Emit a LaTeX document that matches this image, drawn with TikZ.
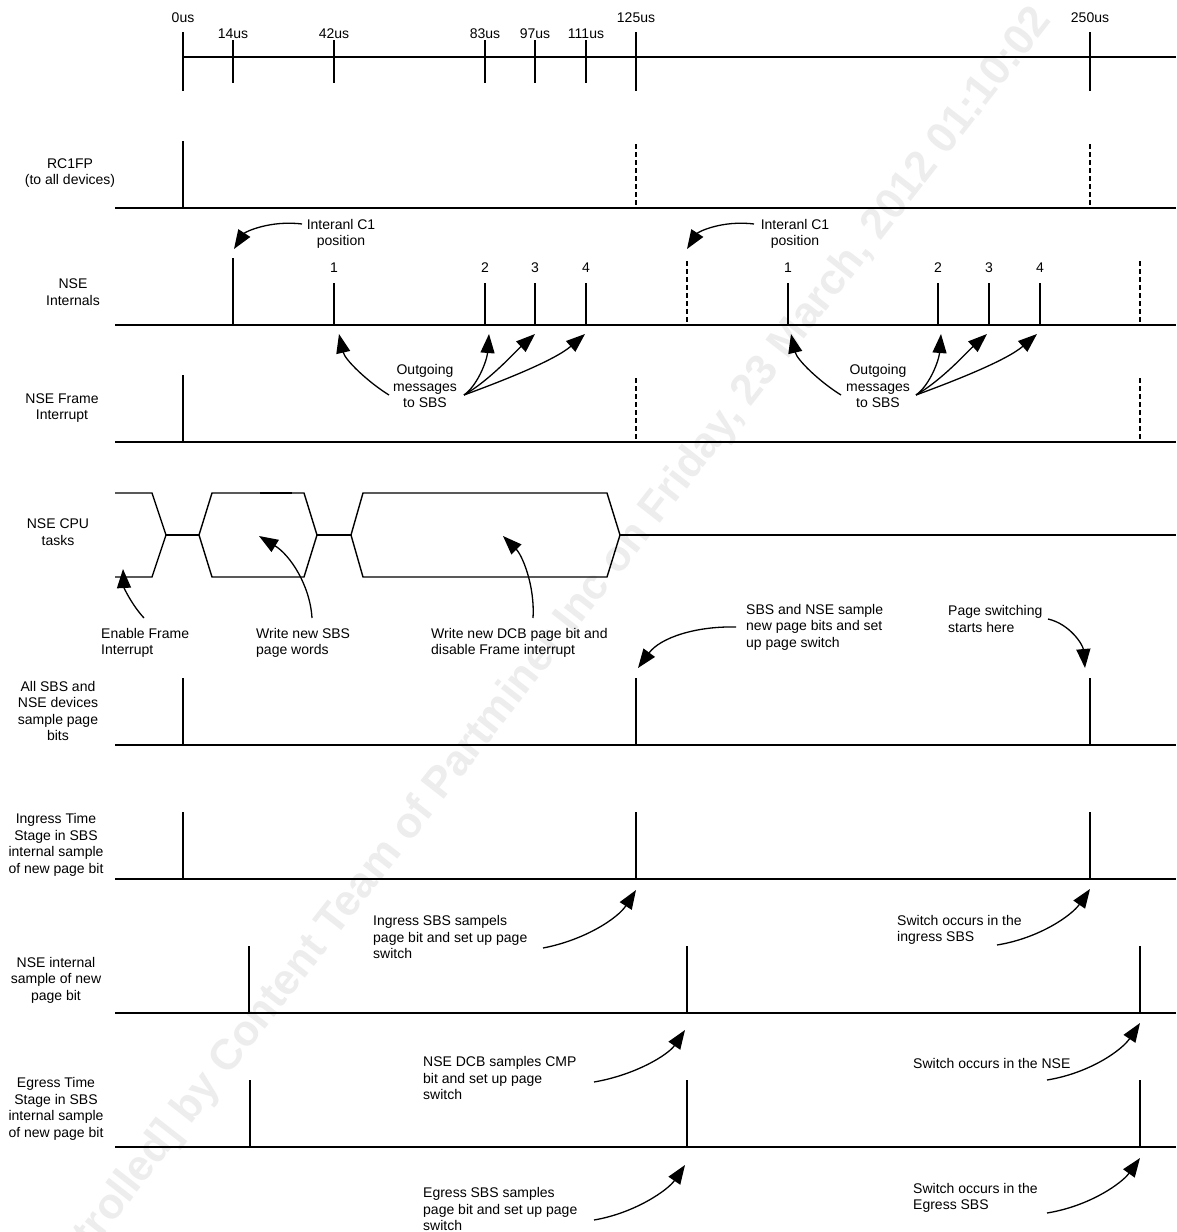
\documentclass[tikz,border=0pt]{standalone}
\usepackage{fontspec}
\setmainfont{Liberation Sans}
\usetikzlibrary{arrows.meta}

\begin{document}
\begin{tikzpicture}[
  x=1pt, y=-1pt,
  sig/.style={line width=1.4pt},
  ghost/.style={line width=1.4pt, dash pattern=on 5pt off 3pt},
  lbl/.style={font=\fontsize{14}{16.5}\selectfont, inner sep=0pt, align=center},
  note/.style={font=\fontsize{14}{16.5}\selectfont, inner sep=0pt, align=left, anchor=west},
  ann/.style={-{Triangle[length=19pt,width=14pt]}, line width=1.3pt},
  stamp/.style={font=\bfseries\fontsize{43}{43}\selectfont, text=black!7, inner sep=0pt}
]
\useasboundingbox[fill=white] (0,0) rectangle (1176,1232);
\node[stamp, rotate=52, anchor=east] (wmark) at (1044,14)
  {[Uncontrolled] by Content Team of Partminer Inc on Friday, 23 March, 2012  01:10:02};

% time scale
\draw[sig] (183,57) -- (1176,57);
\draw[sig] (183,32) -- (183,91) (636,32) -- (636,91) (1090,32) -- (1090,91);
\draw[sig] (233,40) -- (233,83) (334,40) -- (334,83) (485,40) -- (485,83)
  (535,40) -- (535,83) (586,40) -- (586,83);
\node[lbl, anchor=base] (t0) at (183,22) {0us};
\node[lbl, anchor=base] (t14) at (233,38) {14us};
\node[lbl, anchor=base] (t42) at (334,38) {42us};
\node[lbl, anchor=base] (t83) at (485,38) {83us};
\node[lbl, anchor=base] (t97) at (535,38) {97us};
\node[lbl, anchor=base] (t111) at (586,38) {111us};
\node[lbl, anchor=base] (t125) at (636,22) {125us};
\node[lbl, anchor=base] (t250) at (1090,22) {250us};

% signal names
\node[lbl] (rcname) at (70,173) {RC1FP\\(to all devices)};
\node[lbl] (intname) at (73,292) {NSE\\Internals};
\node[lbl] (frmname) at (62,408) {NSE Frame\\Interrupt};
\node[lbl] (cpuname) at (58,532) {NSE CPU\\tasks};
\node[lbl] (allname) at (58,711) {All SBS and\\NSE devices\\sample page\\bits};
\node[lbl] (ingname) at (56,845) {Ingress Time\\Stage in SBS\\internal sample\\of new page bit};
\node[lbl] (nsename) at (56,980) {NSE internal\\sample of new\\page bit};
\node[lbl] (egrname) at (56,1109) {Egress Time\\Stage in SBS\\internal sample\\of new page bit};

% RC1FP
\draw[sig] (115,208) -- (1176,208);
\draw[sig] (183,141) -- (183,208);
\draw[ghost] (636,144) -- (636,208) (1090,144) -- (1090,208);

% NSE internals
\draw[sig] (115,325) -- (1176,325);
\draw[sig] (233,258) -- (233,325);
\draw[sig] (334,283) -- (334,325) (485,283) -- (485,325) (535,283) -- (535,325) (586,283) -- (586,325);
\draw[sig] (788,283) -- (788,325) (938,283) -- (938,325) (989,283) -- (989,325) (1040,283) -- (1040,325);
\draw[ghost] (687,261) -- (687,325) (1140,261) -- (1140,325);
\node[lbl, anchor=base] (n1a) at (334,272) {1};
\node[lbl, anchor=base] (n2a) at (485,272) {2};
\node[lbl, anchor=base] (n3a) at (535,272) {3};
\node[lbl, anchor=base] (n4a) at (586,272) {4};
\node[lbl, anchor=base] (n1b) at (788,272) {1};
\node[lbl, anchor=base] (n2b) at (938,272) {2};
\node[lbl, anchor=base] (n3b) at (989,272) {3};
\node[lbl, anchor=base] (n4b) at (1040,272) {4};

% NSE frame interrupt
\draw[sig] (115,442) -- (1176,442);
\draw[sig] (183,375) -- (183,442);
\draw[ghost] (636,378) -- (636,442) (1140,378) -- (1140,442);

% NSE CPU tasks
\draw[sig] (115,493) -- (152,493) -- (166,535) -- (152,577) -- (115,577);
\draw[sig] (166,535) -- (199,535);
\draw[sig] (199,535) -- (212,493) -- (304,493) -- (317,535) -- (304,577) -- (212,577) -- cycle;
\draw[sig] (317,535) -- (351,535);
\draw[sig] (351,535) -- (363,493) -- (607,493) -- (620,535) -- (607,577) -- (363,577) -- cycle;
\draw[sig] (620,535) -- (1176,535);
\draw[line width=2.4pt] (260,493) -- (292,493);

% sample page bits
\draw[sig] (115,745) -- (1176,745);
\draw[sig] (183,678) -- (183,745) (636,678) -- (636,745) (1090,678) -- (1090,745);

% ingress
\draw[sig] (115,879) -- (1176,879);
\draw[sig] (183,812) -- (183,879) (636,812) -- (636,879) (1090,812) -- (1090,879);

% NSE internal sample
\draw[sig] (115,1013) -- (1176,1013);
\draw[sig] (249,946) -- (249,1013) (687,946) -- (687,1013) (1140,946) -- (1140,1013);

% egress
\draw[sig] (115,1147) -- (1176,1147);
\draw[sig] (250,1080) -- (250,1147) (687,1080) -- (687,1147) (1140,1080) -- (1140,1147);

% notes
\node[lbl] (c1a) at (341,234) {Interanl C1\\position};
\node[lbl] (c1b) at (795,234) {Interanl C1\\position};
\node[lbl] (outa) at (425,386) {Outgoing\\messages\\to SBS};
\node[lbl] (outb) at (878,386) {Outgoing\\messages\\to SBS};
\node[note] (enable) at (101,643) {Enable Frame\\Interrupt};
\node[note] (wsbs) at (256,643) {Write new SBS\\page words};
\node[note] (wdcb) at (431,643) {Write new DCB page bit and\\disable Frame interrupt};
\node[note] (sample) at (746,627) {SBS and NSE sample\\new page bits and set\\up page switch};
\node[note] (pgsw) at (948,619) {Page switching\\starts here};
\node[note] (ingsbs) at (373,937) {Ingress SBS sampels\\page bit and set up page\\switch};
\node[note] (swing) at (897,930) {Switch occurs in the\\ingress SBS};
\node[note] (dcb) at (423,1078) {NSE DCB samples CMP\\bit and set up page\\switch};
\node[note] (swnse) at (913,1063) {Switch occurs in the NSE};
\node[note] (egsbs) at (423,1209) {Egress SBS samples\\page bit and set up page\\switch};
\node[note] (swegr) at (913,1198) {Switch occurs in the\\Egress SBS};

% arrow ends
\coordinate (c1atail) at (302,224);  \coordinate (c1atip) at (234,249);
\coordinate (c1btail) at (754,224);  \coordinate (c1btip) at (687,249);
\coordinate (outatail) at (389,395); \coordinate (outbtail) at (841,395);
\coordinate (outctail) at (464,395); \coordinate (outdtail) at (916,395);
\coordinate (p1a) at (339,334); \coordinate (p2a) at (489,334);
\coordinate (p3a) at (535,334); \coordinate (p4a) at (585,334);
\coordinate (p1b) at (791,334); \coordinate (p2b) at (941,334);
\coordinate (p3b) at (987,334); \coordinate (p4b) at (1037,334);
\coordinate (enabletail) at (144,618); \coordinate (enabletip) at (123,569);
\coordinate (wsbstail) at (312,618);   \coordinate (wsbstip) at (259,536);
\coordinate (wdcbtail) at (533,618);   \coordinate (wdcbtip) at (503,536);
\coordinate (sampletail) at (736,627); \coordinate (sampletip) at (638,668);
\coordinate (pgswtail) at (1048,619);  \coordinate (pgswtip) at (1085,668);
\coordinate (ingtail) at (543,948);    \coordinate (ingtip) at (636,890);
\coordinate (swingtail) at (997,945);  \coordinate (swingtip) at (1090,889);
\coordinate (dcbtail) at (594,1082);   \coordinate (dcbtip) at (685,1030);
\coordinate (swnsetail) at (1047,1080); \coordinate (swnsetip) at (1140,1023);
\coordinate (egtail) at (594,1220);    \coordinate (egtip) at (685,1165);
\coordinate (swegrtail) at (1047,1213); \coordinate (swegrtip) at (1140,1158);

\draw[ann] (c1atail) .. controls (270,220) and (245,232) .. (c1atip);
\draw[ann] (c1btail) .. controls (722,220) and (698,232) .. (c1btip);
\draw[ann] (outatail) .. controls (368,382) and (345,360) .. (p1a);
\draw[ann] (outctail) .. controls (478,385) and (487,360) .. (p2a);
\draw[ann] (outctail) .. controls (490,380) and (515,352) .. (p3a);
\draw[ann] (outctail) .. controls (505,380) and (555,360) .. (p4a);
\draw[ann] (outbtail) .. controls (820,382) and (797,360) .. (p1b);
\draw[ann] (outdtail) .. controls (930,385) and (939,360) .. (p2b);
\draw[ann] (outdtail) .. controls (942,380) and (967,352) .. (p3b);
\draw[ann] (outdtail) .. controls (957,380) and (1007,360) .. (p4b);
\draw[ann] (enabletail) .. controls (132,605) and (124,588) .. (enabletip);
\draw[ann] (wsbstail) .. controls (310,585) and (290,555) .. (wsbstip);
\draw[ann] (wdcbtail) .. controls (535,585) and (522,555) .. (wdcbtip);
\draw[ann] (sampletail) .. controls (695,626) and (660,638) .. (sampletip);
\draw[ann] (pgswtail) .. controls (1070,624) and (1083,645) .. (pgswtip);
\draw[ann] (ingtail) .. controls (585,940) and (618,918) .. (ingtip);
\draw[ann] (swingtail) .. controls (1040,938) and (1072,915) .. (swingtip);
\draw[ann] (dcbtail) .. controls (635,1075) and (668,1055) .. (dcbtip);
\draw[ann] (swnsetail) .. controls (1090,1073) and (1122,1050) .. (swnsetip);
\draw[ann] (egtail) .. controls (635,1213) and (668,1190) .. (egtip);
\draw[ann] (swegrtail) .. controls (1090,1206) and (1122,1183) .. (swegrtip);
\end{tikzpicture}
\end{document}
